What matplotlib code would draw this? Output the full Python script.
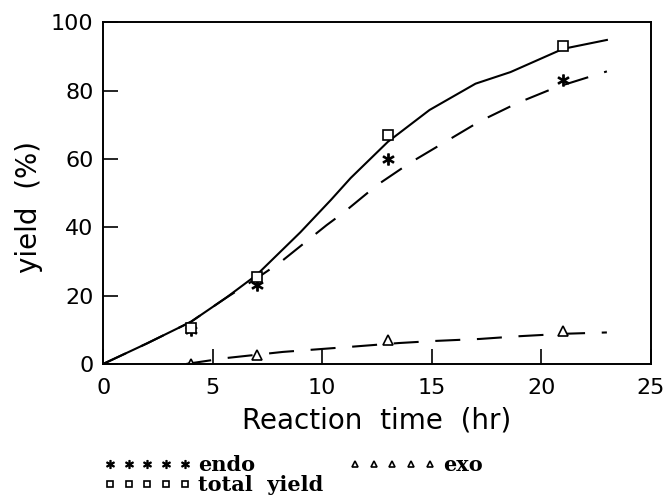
import matplotlib.pyplot as plt

# measured points
t_pts = [4, 7, 13, 21]
total_pts = [10.5, 25.5, 67, 93]
endo_pts = [10, 23, 60, 83]
exo_pts = [0, 2.5, 7, 9.5]

# fitted curves
t_total = [0, 2, 4, 5.6, 7, 9, 10.4, 11.3, 13, 14.9, 17, 18.6, 21, 23]
total_fit = [0, 6, 12.3, 19.3, 26, 38.5, 48, 54.4, 65, 74.3, 82, 85.4, 92.2, 94.8]
t_endo = [0, 2, 4, 5.6, 7, 8.1, 10.2, 11, 12.5, 14, 15.6, 17.2, 18.9, 20.7, 23]
endo_fit = [0, 6, 12.3, 19.3, 25, 29.8, 40.6, 44.4, 52.3, 58.8, 64.9, 71, 76.3, 81, 85.6]
t_exo = [3.8, 5.6, 8.2, 11.3, 13.5, 15.1, 17.2, 19, 21, 23]
exo_fit = [0, 1.7, 3.5, 5, 6.1, 6.7, 7.3, 8.1, 8.8, 9.2]

fig = plt.figure(figsize=(6.66, 5.04), dpi=100)
ax = fig.add_axes([0.155, 0.278, 0.822, 0.678])

ax.plot(t_total, total_fit, color='black', lw=1.5)
ax.plot(t_endo, endo_fit, color='black', lw=1.5, dashes=(12, 8))
ax.plot(t_exo, exo_fit, color='black', lw=1.5, dashes=(12, 8))

ax.plot(t_pts, endo_pts, ls='none', marker='$*$', ms=8, color='black', label='endo')
ax.plot(t_pts, total_pts, ls='none', marker='s', ms=7, mfc='white', mec='black', mew=1.2,
        label='total  yield')
ax.plot(t_pts, exo_pts, ls='none', marker='^', ms=7, mfc='white', mec='black', mew=1.2,
        label='exo')

ax.set_xlim(0, 25)
ax.set_ylim(0, 100)
ax.set_xticks([0, 5, 10, 15, 20, 25])
ax.set_yticks([0, 20, 40, 60, 80, 100])
ax.tick_params(direction='in', length=11, width=1.2, labelsize=16)
ax.tick_params(axis='x', pad=10)
ax.tick_params(axis='y', pad=7)
for s in ax.spines.values():
    s.set_linewidth(1.4)
ax.set_xlabel('Reaction  time  (hr)', fontsize=20)
ax.xaxis.set_label_coords(0.5, -0.125)
ax.set_ylabel('yield  (%)', fontsize=20)
ax.yaxis.set_label_coords(-0.11, 0.46)

fig.legend(loc='upper left', bbox_to_anchor=(0.143, 0.114), ncol=2, frameon=False,
           numpoints=5, handlelength=4.2, handletextpad=0.35, columnspacing=1.2,
           markerscale=0.7, labelspacing=0.0, borderaxespad=0,
           prop={'family': 'DejaVu Serif', 'weight': 'bold', 'size': 15})
fig.savefig('out.png')
